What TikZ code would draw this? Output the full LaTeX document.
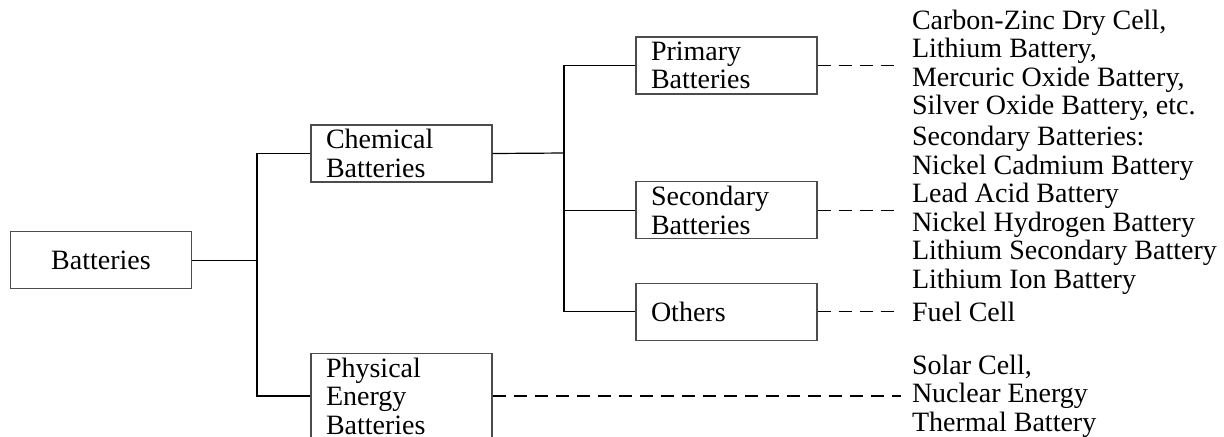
\documentclass[tikz,border=0pt]{standalone}
\usepackage{fontspec}
\setmainfont{Liberation Serif}
\usetikzlibrary{positioning}
\begin{document}
\begin{tikzpicture}[x=0.5pt,y=-0.5pt,
    every node/.style={font=\fontsize{14}{14.25}\selectfont},
    box/.style={draw=black!70,line width=0.6pt,shape=rectangle,minimum width=90.5pt,
      minimum height=28.5pt,inner ysep=0.8pt},
    leftbox/.style={box,text width=75.5pt,inner xsep=7.5pt,align=left},
    list/.style={align=left,inner xsep=5.5pt,inner ysep=0pt},
    dashline/.style={dash pattern=on 6.5pt off 4pt,line width=0.6pt}]
  \useasboundingbox (0,0) rectangle (1224,436);
  \clip (0,0) rectangle (1224,436);
  % boxes
  \node[box] (bat) at (101,260.3) {Batteries};
  \node[leftbox] (chem) at (401.5,153.5) {Chemical\\Batteries};
  \node[leftbox,minimum height=42.75pt] (phys) at (401.5,396) {Physical\\Energy\\Batteries};
  \node[leftbox] (prim) at (726.5,65.5) {Primary\\Batteries};
  \node[leftbox] (sec) at (726.5,210.3) {Secondary\\Batteries};
  \node[leftbox] (oth) at (726.5,311.7) {Others};
  % lists
  \node[list,right=41.5pt of prim] (lst1) {Carbon-Zinc Dry Cell,\\Lithium Battery,\\Mercuric Oxide Battery,\\Silver Oxide Battery, etc.};
  \node[list,right=41.5pt of sec] (lst2) {Secondary Batteries:\\Nickel Cadmium Battery\\Lead Acid Battery\\Nickel Hydrogen Battery\\Lithium Secondary Battery\\Lithium Ion Battery};
  \node[list,right=41.5pt of oth] (lst3) {Fuel Cell};
  \node[list,right=204pt of phys] (lst4) {Solar Cell,\\Nuclear Energy\\Thermal Battery};
  % tree
  \coordinate (j1) at (257,260.3);
  \coordinate (j2) at (564,153);
  \draw[line width=0.6pt] (bat.east) -- (j1);
  \draw[line width=0.6pt] (chem.west) -| (j1) |- (phys.west);
  \draw[line width=0.6pt] (chem.east) -- (j2);
  \draw[line width=0.6pt] (prim.west) -| (j2) |- (oth.west);
  \draw[line width=0.6pt] (sec.west) -- (sec.west -| j2);
  \draw[dashline] (prim) -- (lst1);
  \draw[dashline] (sec) -- (lst2);
  \draw[dashline] (oth) -- (lst3);
  \draw[dashline] (phys) -- (lst4);
\end{tikzpicture}
\end{document}
